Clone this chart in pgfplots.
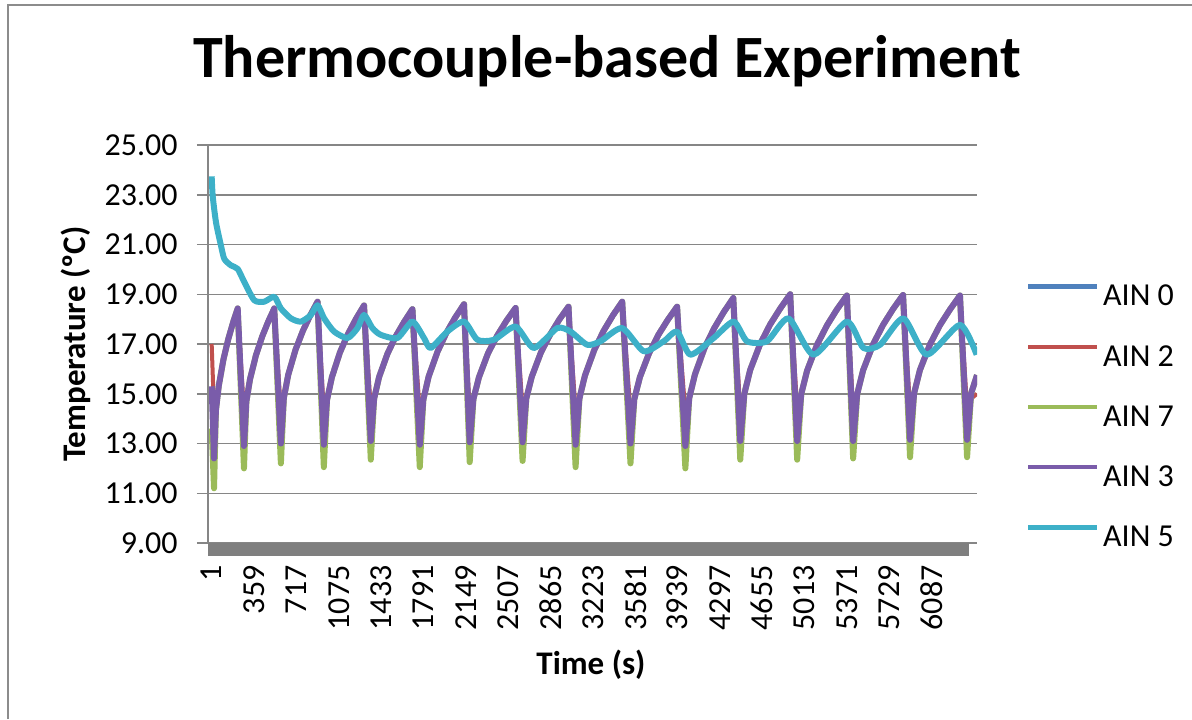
\documentclass[border=0pt]{standalone}
\usepackage{fontspec}
\setmainfont{Carlito}
\usepackage{pgfplots}
\pgfplotsset{compat=1.18}
\definecolor{ain0}{HTML}{4F81BD}
\definecolor{ain2}{HTML}{C0504D}
\definecolor{ain7}{HTML}{9BBB59}
\definecolor{ain3}{HTML}{7A5CAA}
\definecolor{ain5}{HTML}{3DB0C8}
\definecolor{gridgray}{HTML}{868686}
\definecolor{bandgray}{HTML}{7F7F7F}
\definecolor{framegray}{HTML}{8C8C8C}
\begin{document}
\begin{tikzpicture}
\useasboundingbox (-104pt,-88pt) rectangle (492pt,271.5pt);
\draw[framegray, line width=1pt] (-100pt,-88pt) -- (-100pt,269pt) -- (492pt,269pt);
\begin{axis}[
  at={(0pt,0pt)}, anchor=south west,
  scale only axis, width=384.5pt, height=199pt,
  xmin=-30, xmax=6470, ymin=9, ymax=25,
  axis line style={draw=none},
  tick pos=left,
  tick align=outside,
  major tick length=5.5pt,
  ytick={9,11,...,25},
  xtick={1,359,...,6087},
  scaled x ticks=false,
  xtick style={draw=none},
  ytick style={gridgray, line width=0.75pt},
  ymajorgrids,
  grid style={gridgray, line width=0.75pt},
  /pgf/number format/assume math mode=true,
  yticklabel={\pgfmathprintnumber[fixed,fixed zerofill,precision=2]{\tick}},
  xticklabel={\pgfmathprintnumber[fixed,precision=0,1000 sep={}]{\tick}},
  yticklabel style={font=\fontsize{16}{19}\selectfont, inner sep=0pt, anchor=east},
  yticklabel shift=9.5pt,
  xticklabel style={font=\fontsize{16}{19}\selectfont, inner sep=0pt, rotate=90, anchor=east},
  xticklabel shift=5.5pt,
  title={Thermocouple-based Experiment},
  title style={at={(axis description cs:0.5189,1.1407)}, anchor=base, font=\bfseries\fontsize{30}{36}\selectfont, inner sep=0pt},
  xlabel={Time (s)},
  xlabel style={at={(axis description cs:0.498,-0.3065)}, anchor=center, font=\bfseries\fontsize{16.5}{20}\selectfont, inner sep=0pt},
  ylabel={Temperature (ºC)},
  ylabel style={at={(axis description cs:-0.1717,0.5)}, anchor=center, font=\bfseries\fontsize{16.5}{20}\selectfont, inner sep=0pt},
  legend style={draw=none, fill=none, at={(axis description cs:1.0637,0.6558)}, anchor=north west,
    inner sep=0pt, outer sep=0pt, row sep=15.1pt, column sep=0pt,
    font=\fontsize{16}{19}\selectfont,
    nodes={inner sep=0pt, text height=12pt, text depth=3pt}},
  legend cell align=left,
  legend image code/.code={\draw[#1, line width=2.2pt] (0pt,5.25pt) -- (34.5pt,5.25pt); \path (36pt,0pt);},
  every axis plot/.append style={line join=round},
  extra description/.code={
    \draw[bandgray, line width=6.5pt] ([yshift=-3.25pt]0,0) -- ([yshift=-3.25pt]0.99,0);
    \draw[gridgray, line width=0.75pt] (0,0) -- (0,1);
  },
]
\addlegendimage{ain0, line width=2.2pt}
\addlegendentry{AIN 0}

% AIN 2
\addplot[ain2, line width=2pt] coordinates {
(1,17.0) (21,14.3) (37,14.34) (61,15.32) (101,16.39) (141,17.19) (181,17.85) (221,18.43)
(274,14.3) (294,14.68) (325,15.58) (376,16.56) (428,17.30) (479,17.90) (530,18.43)
(586,14.3) (611,14.83) (648,15.76) (710,16.77) (772,17.53) (834,18.15) (896,18.7)
(949,14.3) (976,14.75) (1017,15.66) (1085,16.66) (1153,17.40) (1221,18.01) (1289,18.55)
(1346,14.4) (1374,14.80) (1416,15.67) (1487,16.61) (1557,17.31) (1628,17.89) (1698,18.4)
(1760,14.3) (1790,14.76) (1835,15.69) (1910,16.69) (1984,17.44) (2059,18.06) (2134,18.6)
(2182,14.35) (2213,14.78) (2260,15.66) (2337,16.63) (2415,17.34) (2492,17.93) (2570,18.45)
(2629,14.4) (2660,14.80) (2707,15.69) (2784,16.66) (2862,17.38) (2939,17.98) (3017,18.5)
(3077,14.3) (3109,14.80) (3156,15.73) (3235,16.76) (3313,17.52) (3392,18.15) (3471,18.7)
(3541,14.3) (3573,14.77) (3620,15.66) (3699,16.64) (3777,17.37) (3856,17.97) (3935,18.5)
(4005,14.25) (4037,14.81) (4086,15.78) (4167,16.84) (4248,17.63) (4329,18.28) (4410,18.85)
(4469,14.4) (4503,14.99) (4553,15.96) (4638,17.01) (4722,17.79) (4807,18.43) (4891,19.0)
(4950,14.4) (4984,14.98) (5034,15.93) (5118,16.97) (5202,17.75) (5286,18.39) (5370,18.95)
(5423,14.4) (5457,14.98) (5507,15.94) (5592,16.99) (5676,17.77) (5761,18.41) (5845,18.97)
(5904,14.45) (5938,15.01) (5988,15.96) (6073,16.99) (6157,17.76) (6242,18.39) (6326,18.95)
(6386,14.45) (6420,14.8) (6470,15.0)
};
\addlegendentry{AIN 2}

% AIN 7
\addplot[ain7, line width=3pt] coordinates {
(1,13.6) (21,11.2) (37,14.34) (61,15.32) (101,16.39) (141,17.19) (181,17.85) (221,18.43)
(274,12.0) (294,14.68) (325,15.58) (376,16.56) (428,17.30) (479,17.90) (530,18.43)
(586,12.2) (611,14.83) (648,15.76) (710,16.77) (772,17.53) (834,18.15) (896,18.7)
(949,12.05) (976,14.75) (1017,15.66) (1085,16.66) (1153,17.40) (1221,18.01) (1289,18.55)
(1346,12.35) (1374,14.80) (1416,15.67) (1487,16.61) (1557,17.31) (1628,17.89) (1698,18.4)
(1760,12.05) (1790,14.76) (1835,15.69) (1910,16.69) (1984,17.44) (2059,18.06) (2134,18.6)
(2182,12.25) (2213,14.78) (2260,15.66) (2337,16.63) (2415,17.34) (2492,17.93) (2570,18.45)
(2629,12.3) (2660,14.80) (2707,15.69) (2784,16.66) (2862,17.38) (2939,17.98) (3017,18.5)
(3077,12.05) (3109,14.80) (3156,15.73) (3235,16.76) (3313,17.52) (3392,18.15) (3471,18.7)
(3541,12.2) (3573,14.77) (3620,15.66) (3699,16.64) (3777,17.37) (3856,17.97) (3935,18.5)
(4005,12.0) (4037,14.81) (4086,15.78) (4167,16.84) (4248,17.63) (4329,18.28) (4410,18.85)
(4469,12.35) (4503,14.99) (4553,15.96) (4638,17.01) (4722,17.79) (4807,18.43) (4891,19.0)
(4950,12.35) (4984,14.98) (5034,15.93) (5118,16.97) (5202,17.75) (5286,18.39) (5370,18.95)
(5423,12.4) (5457,14.98) (5507,15.94) (5592,16.99) (5676,17.77) (5761,18.41) (5845,18.97)
(5904,12.45) (5938,15.01) (5988,15.96) (6073,16.99) (6157,17.76) (6242,18.39) (6326,18.95)
(6386,12.45) (6420,15.01) (6470,15.75)
};
\addlegendentry{AIN 7}

% AIN 3
\addplot[ain3, line width=3pt] coordinates {
(1,15.3) (21,12.4) (37,14.34) (61,15.32) (101,16.39) (141,17.19) (181,17.85) (221,18.43)
(274,12.9) (294,14.68) (325,15.58) (376,16.56) (428,17.30) (479,17.90) (530,18.43)
(586,13.0) (611,14.83) (648,15.76) (710,16.77) (772,17.53) (834,18.15) (896,18.7)
(949,12.95) (976,14.75) (1017,15.66) (1085,16.66) (1153,17.40) (1221,18.01) (1289,18.55)
(1346,13.1) (1374,14.80) (1416,15.67) (1487,16.61) (1557,17.31) (1628,17.89) (1698,18.4)
(1760,12.95) (1790,14.76) (1835,15.69) (1910,16.69) (1984,17.44) (2059,18.06) (2134,18.6)
(2182,13.05) (2213,14.78) (2260,15.66) (2337,16.63) (2415,17.34) (2492,17.93) (2570,18.45)
(2629,13.05) (2660,14.80) (2707,15.69) (2784,16.66) (2862,17.38) (2939,17.98) (3017,18.5)
(3077,12.95) (3109,14.80) (3156,15.73) (3235,16.76) (3313,17.52) (3392,18.15) (3471,18.7)
(3541,13.0) (3573,14.77) (3620,15.66) (3699,16.64) (3777,17.37) (3856,17.97) (3935,18.5)
(4005,12.9) (4037,14.81) (4086,15.78) (4167,16.84) (4248,17.63) (4329,18.28) (4410,18.85)
(4469,13.1) (4503,14.99) (4553,15.96) (4638,17.01) (4722,17.79) (4807,18.43) (4891,19.0)
(4950,13.1) (4984,14.98) (5034,15.93) (5118,16.97) (5202,17.75) (5286,18.39) (5370,18.95)
(5423,13.1) (5457,14.98) (5507,15.94) (5592,16.99) (5676,17.77) (5761,18.41) (5845,18.97)
(5904,13.15) (5938,15.01) (5988,15.96) (6073,16.99) (6157,17.76) (6242,18.39) (6326,18.95)
(6386,13.15) (6420,15.01) (6470,15.75)
};
\addlegendentry{AIN 3}

% AIN 5
\addplot[ain5, line width=3pt, smooth, tension=0.4] coordinates {
(1,23.74) (10,22.94) (38,21.88) (80,20.95) (108,20.42) (164,20.16) (221,20.02) (276,19.50)
(361,18.76) (445,18.70) (530,18.90) (586,18.43) (671,18.03) (755,17.90) (840,18.17) (896,18.56)
(952,18.03) (1036,17.50) (1149,17.24) (1234,17.64) (1289,18.17) (1360,17.64) (1430,17.37)
(1571,17.24) (1698,17.90) (1796,17.24) (1852,16.84) (1993,17.50) (2134,17.90) (2247,17.17)
(2387,17.17) (2570,17.70) (2724,16.84) (2922,17.64) (3034,17.50) (3175,16.97) (3288,17.11)
(3471,17.64) (3653,16.71) (3822,17.11) (3935,17.50) (4047,16.57) (4244,17.24) (4413,17.90)
(4526,17.11) (4695,17.11) (4877,18.03) (5088,16.57) (5370,17.90) (5510,16.84) (5651,16.97)
(5848,18.03) (6045,16.57) (6326,17.77) (6467,16.57)
};
\addlegendentry{AIN 5}
\end{axis}
\end{tikzpicture}
\end{document}
